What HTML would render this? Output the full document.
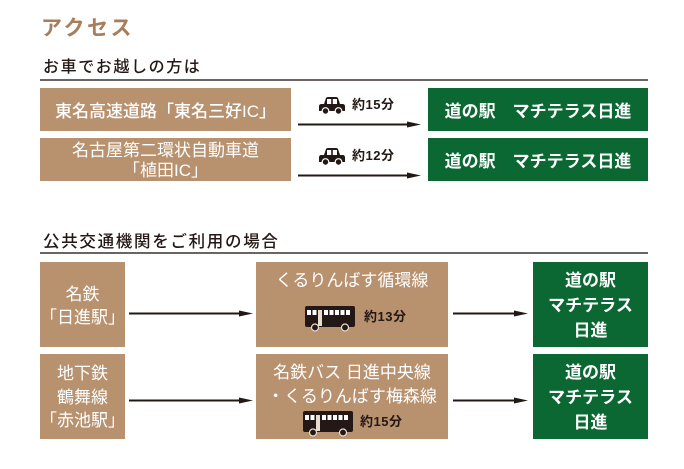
<!DOCTYPE html>
<html><head><meta charset="utf-8">
<style>
html,body{margin:0;padding:0;background:#fff;}
body{width:684px;height:469px;position:relative;overflow:hidden;font-family:"Liberation Sans","Noto Sans CJK JP",sans-serif;}
.a{position:absolute;}
.title{left:41px;top:15px;font-size:21px;font-weight:bold;color:#a87d5c;letter-spacing:2.5px;line-height:28px;}
.sub{font-size:16px;color:#231815;line-height:20px;letter-spacing:1.6px;font-weight:500;}
.rule{height:2px;background:#6b6462;}
.br{background:#b8916f;color:#fff;text-align:center;display:flex;align-items:center;justify-content:center;font-size:17px;}
.gr{background:#0c6833;color:#fff;text-align:center;display:flex;align-items:center;justify-content:center;font-size:17px;font-weight:bold;}
.t{font-size:13px;font-weight:bold;color:#231815;letter-spacing:0.5px;line-height:14px;}
</style></head><body>
<div class="a title">アクセス</div>
<div class="a sub" style="left:43px;top:58px;">お車でお越しの方は</div>
<div class="a rule" style="left:40px;top:79px;width:608px;"></div>

<div class="a br" style="left:40px;top:88px;width:251px;height:43px;font-weight:500;">東名高速道路「東名三好IC」</div>
<div class="a br" style="left:40px;top:138px;width:251px;height:43px;line-height:20px;flex-direction:column;padding-top:3px;box-sizing:border-box;">名古屋第二環状自動車道<br>「植田IC」</div>

<div class="a gr" style="left:428px;top:88px;width:220px;height:43px;">道の駅　マチテラス日進</div>
<div class="a gr" style="left:428px;top:138px;width:220px;height:43px;">道の駅　マチテラス日進</div>

<svg class="a" style="left:0;top:0;" width="684" height="469">
 <defs>
  <g id="car">
   <path d="M5,7 L7,1 Q7.5,0 9,0 L17,0 Q18.5,0 19,1 L21,7 L23.5,7 Q26,7 26,9.5 L26,14 L0,14 L0,9.5 Q0,7 2.5,7 Z" fill="#231815"/>
   <rect x="8" y="2" width="4.2" height="5" fill="#fff"/>
   <rect x="13.8" y="2" width="4.2" height="5" fill="#fff"/>
   <circle cx="6.5" cy="14" r="3.3" fill="#231815" stroke="#fff" stroke-width="1.2"/>
   <circle cx="19.5" cy="14" r="3.3" fill="#231815" stroke="#fff" stroke-width="1.2"/>
  </g>
 </defs>
 <line x1="298" y1="124.5" x2="412" y2="124.5" stroke="#231815" stroke-width="2"/>
 <polygon points="407,121.5 421,124.5 407,127.5" fill="#231815"/>
 <line x1="298" y1="175.5" x2="412" y2="175.5" stroke="#231815" stroke-width="2"/>
 <polygon points="407,172.5 421,175.5 407,178.5" fill="#231815"/>
 <use href="#car" x="319" y="97"/>
 <use href="#car" x="319" y="148"/>
 <line x1="129" y1="313.5" x2="244" y2="313.5" stroke="#231815" stroke-width="2"/>
 <polygon points="239,310.5 253,313.5 239,316.5" fill="#231815"/>
 <line x1="129" y1="400.5" x2="244" y2="400.5" stroke="#231815" stroke-width="2"/>
 <polygon points="239,397.5 253,400.5 239,403.5" fill="#231815"/>
 <line x1="453" y1="313.5" x2="519" y2="313.5" stroke="#231815" stroke-width="2"/>
 <polygon points="514,310.5 528,313.5 514,316.5" fill="#231815"/>
 <line x1="453" y1="400.5" x2="519" y2="400.5" stroke="#231815" stroke-width="2"/>
 <polygon points="514,397.5 528,400.5 514,403.5" fill="#231815"/>
</svg>
<div class="a t" style="left:352px;top:98px;">約15分</div>
<div class="a t" style="left:352px;top:149px;">約12分</div>

<div class="a sub" style="left:43px;top:232px;font-size:16.5px;letter-spacing:1.7px;">公共交通機関をご利用の場合</div>
<div class="a rule" style="left:40px;top:252px;width:608px;"></div>

<div class="a br" style="left:40px;top:262px;width:85px;height:85px;line-height:23px;padding-top:3px;box-sizing:border-box;">名鉄<br>「日進駅」</div>
<div class="a br" style="left:40px;top:354px;width:85px;height:85px;line-height:23.5px;padding-top:2px;box-sizing:border-box;">地下鉄<br>鶴舞線<br>「赤池駅」</div>

<div class="a br" style="left:256px;top:262px;width:192px;height:85px;display:block;">
 <div style="position:absolute;left:0;right:0;top:8px;line-height:22px;">くるりんばす循環線</div>
</div>
<div class="a br" style="left:256px;top:354px;width:192px;height:85px;display:block;">
 <div style="position:absolute;left:0;right:0;top:7px;line-height:24px;">名鉄バス 日進中央線<br>・くるりんばす梅森線</div>
</div>
<svg class="a" style="left:0;top:0;" width="684" height="469">
 <g transform="translate(305,306)">
   <rect x="0" y="0" width="50" height="21" rx="2" fill="#231815"/>
   <rect x="2" y="4" width="4" height="5" fill="#fff"/>
   <rect x="7.5" y="4" width="4" height="5" fill="#fff"/>
   <rect x="13" y="4" width="4" height="16" fill="#e8dccf"/>
   <rect x="19" y="4" width="4" height="5" fill="#fff"/>
   <rect x="24.5" y="4" width="4" height="5" fill="#fff"/>
   <rect x="30" y="4" width="4" height="5" fill="#fff"/>
   <rect x="35.5" y="4" width="4" height="5" fill="#fff"/>
   <rect x="41" y="4" width="4" height="5" fill="#fff"/>
   <circle cx="10" cy="21.5" r="3.5" fill="#231815" stroke="#e8dccf" stroke-width="1.2"/>
   <circle cx="40" cy="21.5" r="3.5" fill="#231815" stroke="#e8dccf" stroke-width="1.2"/>
 </g>
 <g transform="translate(303,411)">
   <rect x="0" y="0" width="50" height="21" rx="2" fill="#231815"/>
   <rect x="2" y="4" width="4" height="5" fill="#fff"/>
   <rect x="7.5" y="4" width="4" height="5" fill="#fff"/>
   <rect x="13" y="4" width="4" height="16" fill="#e8dccf"/>
   <rect x="19" y="4" width="4" height="5" fill="#fff"/>
   <rect x="24.5" y="4" width="4" height="5" fill="#fff"/>
   <rect x="30" y="4" width="4" height="5" fill="#fff"/>
   <rect x="35.5" y="4" width="4" height="5" fill="#fff"/>
   <rect x="41" y="4" width="4" height="5" fill="#fff"/>
   <circle cx="10" cy="21.5" r="3.5" fill="#231815" stroke="#e8dccf" stroke-width="1.2"/>
   <circle cx="40" cy="21.5" r="3.5" fill="#231815" stroke="#e8dccf" stroke-width="1.2"/>
 </g>
</svg>
<div class="a t" style="left:364px;top:310px;">約13分</div>
<div class="a t" style="left:360px;top:415px;">約15分</div>

<div class="a gr" style="left:533px;top:262px;width:115px;height:85px;line-height:25px;padding-top:1px;box-sizing:border-box;">道の駅<br>マチテラス<br>日進</div>
<div class="a gr" style="left:533px;top:354px;width:115px;height:85px;line-height:25px;padding-top:1px;box-sizing:border-box;">道の駅<br>マチテラス<br>日進</div>
</body></html>
